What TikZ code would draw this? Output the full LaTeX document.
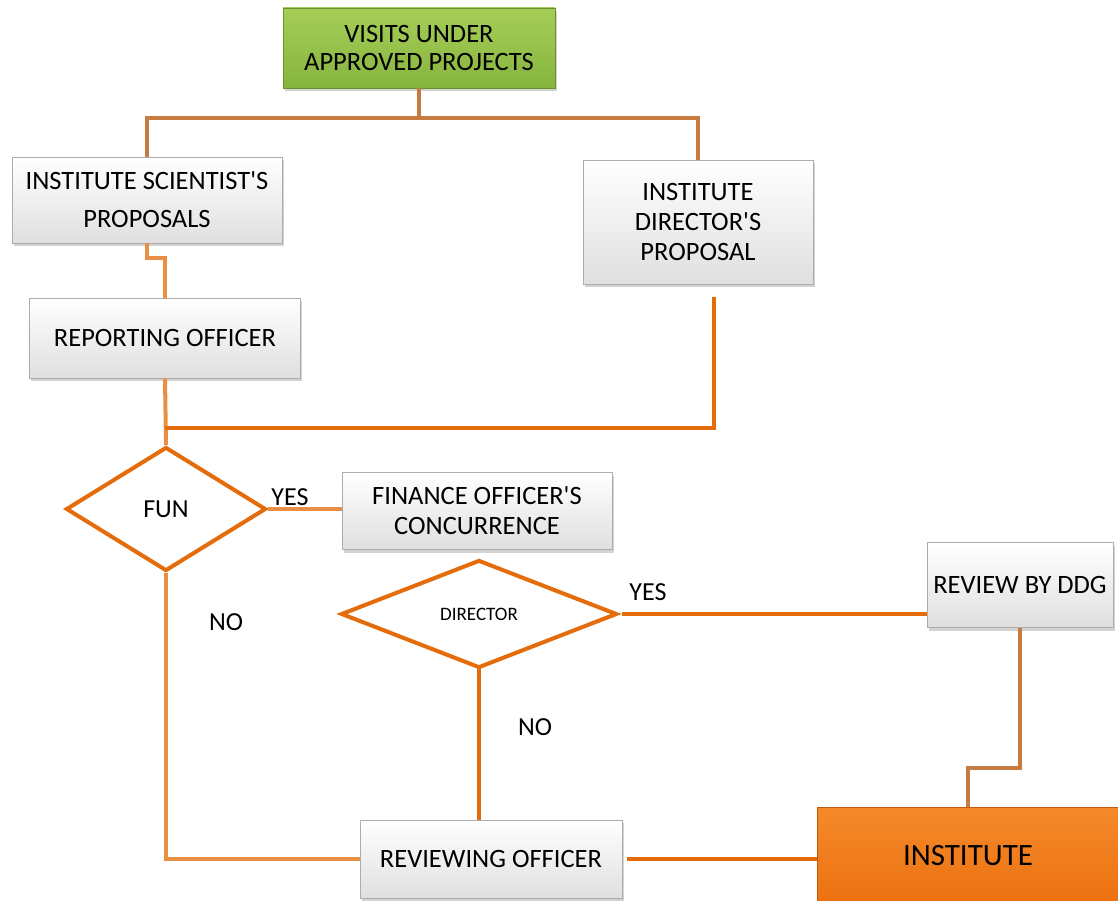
\documentclass[tikz,border=0pt]{standalone}
\usepackage{fontspec}
\setmainfont{Carlito}[Ligatures=TeXOff]
\usetikzlibrary{shadows,shapes.geometric}
\definecolor{cbrown}{HTML}{C67B40}
\definecolor{clight}{HTML}{E98F45}
\definecolor{cdark}{HTML}{E46C0A}
\definecolor{gtop}{HTML}{A6CE57}
\definecolor{gbot}{HTML}{86B43F}
\definecolor{itop}{HTML}{F58A2A}
\definecolor{ibot}{HTML}{EC7010}
\tikzset{
  x=1pt, y=-1pt,
  gbox/.style={rectangle, draw=gray!65, line width=0.8pt, top color=white, bottom color=gray!25,
    drop shadow={shadow xshift=1.5pt, shadow yshift=-3pt, opacity=0.35},
    align=center, inner sep=0pt, font=\fontsize{26.5}{30}\selectfont},
  greenbox/.style={gbox, draw=gbot!80!black, top color=gtop, bottom color=gbot},
  instbox/.style={gbox, draw=ibot!80!black, top color=itop, bottom color=ibot, font=\fontsize{31}{36}\selectfont},
  dec/.style={diamond, draw=cdark, line width=4pt, fill=white, inner sep=0pt, align=center},
  lbl/.style={font=\fontsize{26}{30}\selectfont, inner sep=0pt},
  conb/.style={draw=cbrown, line width=4pt},
  conl/.style={draw=clight, line width=4pt},
  cond/.style={draw=cdark, line width=4pt},
}
\begin{document}
\begin{tikzpicture}
\useasboundingbox (0,0) rectangle (1118,901);
% nodes
\node[greenbox, minimum width=272pt, minimum height=80pt] (green) at (419,48) {VISITS UNDER\\[-2pt]APPROVED PROJECTS};
\node[gbox, minimum width=270pt, minimum height=86pt, font=\fontsize{26.5}{38}\selectfont] (sci) at (147,200) {INSTITUTE SCIENTIST'S\\PROPOSALS};
\node[gbox, minimum width=230pt, minimum height=124pt] (dirp) at (698,222) {INSTITUTE\\DIRECTOR'S\\PROPOSAL};
\node[gbox, minimum width=271pt, minimum height=80pt] (rep) at (165,338) {REPORTING OFFICER};
\node[dec, minimum width=200pt, minimum height=124pt, font=\fontsize{26}{30}\selectfont] (fun) at (166,509) {FUN};
\node[gbox, minimum width=270pt, minimum height=77pt] (fin) at (477,511) {FINANCE OFFICER'S\\CONCURRENCE};
\node[dec, minimum width=276pt, minimum height=108pt, font=\fontsize{19}{23}\selectfont] (dir) at (479,614) {DIRECTOR};
\node[gbox, minimum width=186pt, minimum height=85pt] (ddg) at (1020,585) {REVIEW BY DDG};
\node[gbox, minimum width=262pt, minimum height=78pt] (rev) at (491,859) {REVIEWING OFFICER};
\node[instbox, minimum width=302pt, minimum height=97pt] (inst) at (968,856) {INSTITUTE};
% connectors
\coordinate (j1) at (419,118);
\coordinate (d1) at (714,297);
\coordinate (j2) at (165,428);
\coordinate (j3) at (1020,768);
\draw[conb] (green.south) -- (j1);
\draw[conb] (sci.north) |- (j1) -| (dirp.north);
\draw[conl] (sci.south) -- ++(0,15) -| (rep.north);
\draw[conl] (rep.south) -- (fun.north);
\draw[cond] (d1) |- (j2);
\draw[conl] (fun.east) -- (fun.east -| fin.west);
\draw[conl] (fun.south) |- (rev.west);
\draw[cond] ([xshift=3pt]dir.east) -- (dir.east -| ddg.west);
\draw[cond] ([yshift=4pt]dir.south) -- (dir.south |- rev.north);
\draw[cond] ([xshift=5pt]rev.east) -- (rev.east -| inst.west);
\draw[conb] (ddg.south) -- (j3) -| (inst.north);
% labels
\node[lbl] (yes1) at (290,497) {YES};
\node[lbl] (no1) at (226,622) {NO};
\node[lbl] (yes2) at (648,592) {YES};
\node[lbl] (no2) at (535,727) {NO};
\end{tikzpicture}
\end{document}
